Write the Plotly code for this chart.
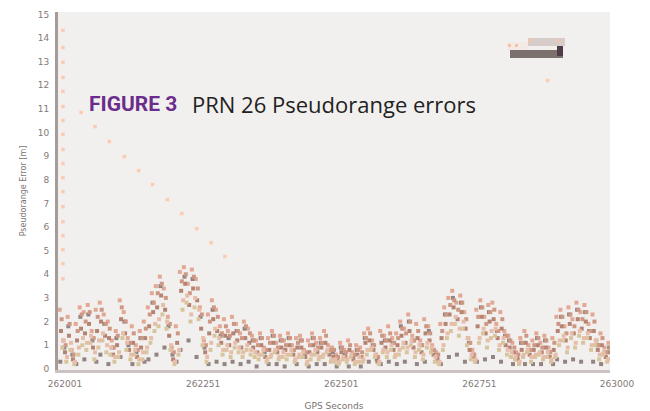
import plotly.graph_objects as go

# ---------------- data ----------------
err_a = [2.5,1.2,2.2, 0.8,1.9,2.6, 2.4,2.7,1.6,2.5,2.8,2.3, 2.0,1.2,1.6, 2.9,2.4, 1.3,1.8,1.0,1.6, 2.0,2.6,
         3.2,3.5,3.9,3.4, 2.2,0.9,1.8, 4.1,4.3,3.6,4.2,3.8,2.6, 1.2,2.3, 2.9,2.5,1.8, 2.1,1.6,2.2,1.9,1.5,2.0,1.7,
         1.4,1.2,1.5,0.9,1.3,1.6,1.1,1.4,1.2,1.5,1.0,1.3,1.4,0.8,1.2,1.5,1.1,1.3,1.6,1.0,
         0.9,0.6,1.1,0.8,1.2,0.7,1.0,0.9, 1.5,1.7,1.2,0.6, 1.6,1.4,1.8,1.3,1.5,2.0,1.7,2.3,1.4,1.9,
         1.2,2.1,1.8,1.0,0.7, 1.9,2.6,3.0,3.3,2.8,3.1,2.4, 1.3,0.8, 2.5,2.9,2.2,2.7,2.8,1.9,2.4,1.6,
         1.4,1.1,0.7, 1.3,1.6,1.0,1.2,1.5,1.1,1.4,0.9,1.3, 2.2,2.5,1.8,2.6,2.1,2.8,2.4,2.7,1.9,2.3,
         1.2,1.5,0.9, 1.1]
err_b = [1.6,0.7,1.4, 0.4,1.2,1.7, 1.5,1.9,0.9,1.6,2.0,1.4, 1.3,0.6,1.0, 2.1,1.5, 0.8,1.1,0.5,0.9, 1.3,1.8,
         2.4,2.6,3.1,2.5, 1.4,0.4,1.1, 3.3,3.6,2.7,3.4,2.9,1.7, 0.7,1.5, 2.1,1.6,1.1, 1.4,1.0,1.5,1.2,0.9,1.3,1.1,
         0.9,0.7,1.0,0.5,0.8,1.1,0.7,0.9,0.8,1.0,0.6,0.9,0.9,0.5,0.7,1.0,0.7,0.9,1.1,0.6,
         0.5,0.4,0.7,0.5,0.8,0.4,0.6,0.5, 1.1,1.2,0.8,0.3, 1.1,0.9,1.2,0.8,1.0,1.4,1.1,1.6,0.9,1.3,
         0.7,1.5,1.2,0.6,0.4, 1.3,1.9,2.3,2.6,2.1,2.4,1.7, 0.8,0.5, 1.8,2.2,1.5,2.0,2.1,1.3,1.7,1.0,
         0.9,0.7,0.4, 0.8,1.1,0.6,0.8,1.0,0.7,0.9,0.5,0.8, 1.6,1.8,1.2,1.9,1.5,2.1,1.7,2.0,1.3,1.6,
         0.8,1.0,0.5, 0.7]
err_c = [0.9,0.3,0.8, 0.2,0.6,1.0, 0.8,1.1,0.4,0.9,1.2,0.7, 0.6,0.3,0.5, 1.3,0.8, 0.4,0.6,0.2,0.4, 0.7,1.1,
         1.6,1.8,2.3,1.7, 0.8,0.2,0.6, 2.5,2.8,2.0,2.6,2.1,1.0, 0.3,0.8, 1.4,1.0,0.6, 0.8,0.5,0.9,0.7,0.5,0.8,0.6,
         0.5,0.4,0.6,0.3,0.5,0.7,0.4,0.5,0.4,0.6,0.3,0.5,0.5,0.2,0.4,0.6,0.4,0.5,0.7,0.3,
         0.3,0.2,0.4,0.3,0.5,0.2,0.3,0.3, 0.6,0.8,0.5,0.2, 0.7,0.5,0.8,0.5,0.6,0.9,0.7,1.0,0.5,0.8,
         0.4,0.9,0.7,0.3,0.2, 0.8,1.3,1.6,1.9,1.4,1.7,1.0, 0.4,0.3, 1.1,1.5,0.9,1.3,1.4,0.8,1.1,0.6,
         0.5,0.4,0.2, 0.5,0.7,0.3,0.5,0.6,0.4,0.5,0.3,0.5, 1.0,1.2,0.7,1.3,0.9,1.4,1.1,1.3,0.8,1.0,
         0.4,0.6,0.3, 0.4]
err_d = [0.3,0.9,1.8, 0.6,0.2,2.2, 0.4,2.3,1.2,0.3,0.6,1.9, 0.2,0.9,1.3, 0.5,2.0, 1.0,0.2,0.7,1.3, 0.3,0.4,
         2.8,0.6,3.5,0.9, 1.8,0.6,0.3, 0.8,3.9,1.2,3.8,0.5,2.2, 0.9,0.2, 2.5,0.3,1.4, 0.2,1.3,0.3,1.6,0.2,1.7,0.3,
         1.2,0.1,1.3,0.7,0.2,1.4,0.2,1.2,0.1,1.3,0.8,0.2,1.2,0.6,0.1,1.3,0.2,1.1,0.2,0.8,
         0.7,0.1,0.9,0.6,0.1,0.5,0.8,0.1, 1.3,0.3,1.0,0.4, 0.2,1.2,0.3,1.1,0.2,1.8,0.3,2.0,1.2,0.2,
         1.0,0.3,1.6,0.8,0.5, 0.2,2.3,0.5,3.0,0.6,2.8,0.3, 1.1,0.6, 0.3,2.6,0.4,2.4,0.5,1.6,0.3,1.4,
         1.2,0.2,0.5, 1.1,0.2,0.8,0.2,1.3,0.2,1.2,0.7,0.2, 0.4,2.2,0.3,2.3,0.4,2.5,0.3,2.4,1.6,0.3,
         1.0,0.2,0.7, 0.9]
err_e = [2.1,1.0,1.9, 0.6,1.6,2.3, 2.0,2.4,1.3,2.2,2.5,1.9, 1.7,0.9,1.4, 2.6,2.0, 1.1,1.5,0.8,1.3, 1.7,2.3,
         2.8,3.2,3.6,3.0, 1.9,0.7,1.5, 3.7,4.0,3.2,3.9,3.4,2.3, 1.0,2.0, 2.6,2.2,1.5, 1.8,1.4,1.9,1.6,1.3,1.8,1.5,
         1.2,1.0,1.3,0.8,1.1,1.4,0.9,1.2,1.0,1.3,0.8,1.1,1.2,0.7,1.0,1.3,0.9,1.1,1.4,0.8,
         0.8,0.5,0.9,0.7,1.0,0.6,0.8,0.7, 1.3,1.5,1.0,0.5, 1.4,1.2,1.5,1.1,1.3,1.7,1.5,2.0,1.2,1.6,
         1.0,1.8,1.5,0.8,0.6, 1.6,2.3,2.7,2.9,2.5,2.8,2.1, 1.1,0.6, 2.2,2.6,1.9,2.4,2.5,1.6,2.1,1.4,
         1.2,0.9,0.6, 1.1,1.4,0.8,1.0,1.3,0.9,1.2,0.7,1.1, 1.9,2.2,1.5,2.3,1.8,2.5,2.1,2.4,1.6,2.0,
         1.0,1.3,0.7, 0.9]
err_f = [1.2,0.5,1.1, 0.3,0.9,1.3, 1.1,1.4,0.7,1.2,1.5,1.0, 0.9,0.5,0.7, 1.5,1.1, 0.6,0.8,0.4,0.7, 0.9,1.3,
         1.9,2.1,2.7,2.0, 1.0,0.3,0.8, 2.9,3.1,2.3,3.0,2.5,1.3, 0.5,1.1, 1.7,1.3,0.8, 1.0,0.7,1.1,0.9,0.7,1.0,0.8,
         0.7,0.6,0.8,0.4,0.6,0.8,0.5,0.7,0.6,0.8,0.4,0.6,0.7,0.3,0.6,0.8,0.5,0.6,0.8,0.4,
         0.4,0.3,0.5,0.4,0.6,0.3,0.5,0.4, 0.8,0.9,0.6,0.3, 0.8,0.7,1.0,0.6,0.8,1.1,0.9,1.2,0.7,1.0,
         0.6,1.1,0.9,0.5,0.3, 1.0,1.5,1.9,2.2,1.7,2.0,1.3, 0.6,0.4, 1.3,1.7,1.2,1.6,1.7,1.0,1.3,0.8,
         0.7,0.5,0.3, 0.6,0.8,0.5,0.6,0.7,0.5,0.7,0.4,0.6, 1.2,1.4,0.9,1.5,1.1,1.6,1.3,1.5,1.0,1.2,
         0.6,0.7,0.4, 0.5]

# isolated outliers (initial convergence)
col_t = [262010] * 18
col_y = [14.32, 13.6, 12.97, 12.33, 11.74, 11.1, 10.51, 9.92, 9.28, 8.69, 8.09, 7.5,
         6.86, 6.23, 5.64, 5.04, 4.45, 3.81]
diag_t = [262043, 262068, 262094, 262121, 262147, 262172, 262199, 262225, 262252, 262278, 262303]
diag_y = [10.85, 10.25, 9.62, 8.98, 8.39, 7.8, 7.16, 6.57, 5.93, 5.34, 4.75]
out_t = [262887]
out_y = [12.2]

t_start = 262004
t_step = 7.25
x_tickvals = [262001, 262251, 262501, 262751, 263000]
x_ticktext = ["262001", "262251", "262501", "262751", "263000"]
y_tickvals = list(range(0, 16))

# ---------------- figure ----------------
def times(n, off):
    return [t_start + off + t_step * i for i in range(n)]

fig = go.Figure()
series = [
    (err_a, 0.0, "#e3a893"),
    (err_d, 1.2, "#928480"),
    (err_b, 2.4, "#b58372"),
    (err_e, 3.6, "#cc9884"),
    (err_c, 4.8, "#d8c59e"),
    (err_f, 6.0, "#e7bdaa"),
]
for vals, off, col in series:
    fig.add_trace(go.Scatter(
        x=times(len(vals), off), y=vals, mode="markers",
        marker=dict(symbol="square", size=4, color=col, line=dict(width=0)),
        showlegend=False))

orange = "#fccbb2"
fig.add_trace(go.Scatter(x=col_t + diag_t + out_t, y=col_y + diag_y + out_y, mode="markers",
                         marker=dict(symbol="square", size=3.5, color=orange, line=dict(width=0)),
                         showlegend=False))

# title annotation
fig.add_annotation(xref="paper", yref="paper", x=0.052, y=0.743, xanchor="left", yanchor="middle",
                   text="<b>FIGURE 3</b>", showarrow=False,
                   font=dict(family="Liberation Sans Narrow, Roboto, Open Sans", size=21, color="#6b2d8c"))
fig.add_annotation(xref="paper", yref="paper", x=0.239, y=0.743, xanchor="left", yanchor="middle",
                   text="PRN 26 Pseudorange errors", showarrow=False,
                   font=dict(family="Open Sans, DejaVu Sans", size=22, color="#222222"))

# small legend box (decoration, paper coords)
def px_x(p):
    return (p - 58) / 552
def px_y(p):
    return (370 - p) / 358

shapes = [
    dict(type="rect", xref="paper", yref="paper", x0=px_x(507), x1=px_x(528), y0=px_y(50), y1=px_y(42),
         fillcolor="#f3e9e5", line=dict(width=0)),
    dict(type="rect", xref="paper", yref="paper", x0=px_x(528), x1=px_x(565), y0=px_y(46), y1=px_y(38),
         fillcolor="#d6cdcb", line=dict(width=0)),
    dict(type="rect", xref="paper", yref="paper", x0=px_x(510), x1=px_x(563), y0=px_y(58), y1=px_y(50),
         fillcolor="#7c706e", line=dict(width=0)),
    dict(type="rect", xref="paper", yref="paper", x0=px_x(557), x1=px_x(563), y0=px_y(56), y1=px_y(46),
         fillcolor="#4e3c46", line=dict(width=0)),
]
for (a, b) in [(508, 44), (515, 44), (529, 39), (558, 39)]:
    shapes.append(dict(type="rect", xref="paper", yref="paper", x0=px_x(a), x1=px_x(a + 3),
                       y0=px_y(b + 3), y1=px_y(b), fillcolor="#f8c0a4", line=dict(width=0)))

axis_font = dict(family="DejaVu Sans", size=9, color="#827a78")
# the page adds an 8 px body margin, so the figure is 8 px smaller and margins shifted
fig.update_layout(
    width=642, height=403,
    margin=dict(l=50, r=40, t=4, b=41),
    paper_bgcolor="white", plot_bgcolor="#f2f0ef",
    showlegend=False,
    shapes=shapes,
    font=dict(family="DejaVu Sans"),
)
fig.update_xaxes(range=[262001, 263000], tickvals=x_tickvals, ticktext=x_ticktext, automargin=False,
                 showgrid=False, zeroline=False, showline=True, linewidth=3, linecolor="#cbc3c1",
                 ticks="", tickfont=axis_font, ticklabelshift=7, ticklabelstandoff=3,
                 title=dict(text="GPS Seconds", font=dict(size=9, color="#7a7270"), standoff=16))
fig.update_yaxes(range=[-0.05, 15.1], tickvals=y_tickvals, automargin=False,
                 showgrid=False, zeroline=False, showline=True, linewidth=3, linecolor="#a59c99",
                 ticks="", tickfont=axis_font, ticklabelstandoff=4,
                 title=dict(text="Pseudorange Error [m]", font=dict(size=8, color="#7a7270"), standoff=10))

fig.write_html("out.html")
